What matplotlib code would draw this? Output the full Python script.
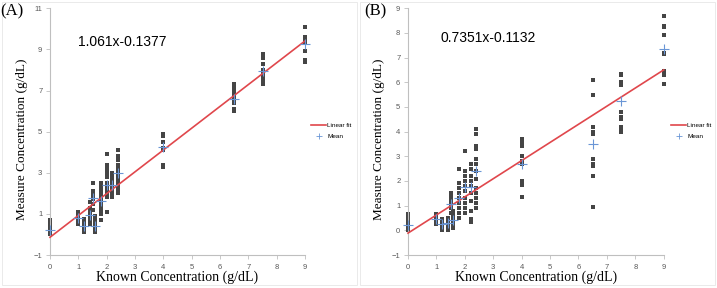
import matplotlib
matplotlib.use("Agg")
import matplotlib.pyplot as plt
from matplotlib.patches import Rectangle
from matplotlib.lines import Line2D
import numpy as np

# ---------------- data ----------------
known_levels = [0, 1.0, 1.2, 1.4, 1.5, 1.6, 1.8, 2.0, 2.2, 2.4, 4.0, 6.5, 7.5, 9.0]

meas_a = [
    [0.0, 0.05, 0.1, 0.15, 0.3, 0.4, 0.5, 0.6, 0.7],
    [0.5, 0.6, 0.7, 0.8, 0.9, 1.0, 1.1],
    [0.1, 0.2, 0.3, 0.4, 0.5, 0.6, 0.75],
    [0.5, 0.6, 0.8, 0.9, 1.0, 1.2, 1.3, 1.6],
    [1.2, 1.5, 1.7, 1.8, 2.0, 2.1, 2.5],
    [0.1, 0.2, 0.3, 0.4, 0.5, 0.7, 0.9],
    [0.7, 1.0, 1.2, 1.4, 1.5, 1.7, 1.9, 2.1, 2.3, 2.5],
    [1.1, 1.8, 2.0, 2.1, 2.3, 2.5, 2.8, 3.0, 3.2, 3.4, 3.9],
    [1.8, 1.9, 2.0, 2.2, 2.4, 2.6, 2.8, 3.0],
    [2.0, 2.2, 2.4, 2.6, 2.8, 3.0, 3.2, 3.4, 3.6, 3.8, 4.1],
    [3.3, 3.4, 4.1, 4.2, 4.5, 4.8, 4.9],
    [6.0, 6.1, 6.4, 6.6, 6.8, 7.0, 7.1, 7.3],
    [7.3, 7.4, 7.6, 7.8, 8.0, 8.3, 8.6, 8.8],
    [8.4, 8.5, 8.9, 9.3, 9.4, 9.5, 9.6, 10.1],
]
mean_a = [0.2, 0.8, 0.4, 0.95, 1.75, 0.4, 1.65, 2.4, 2.4, 3.0, 4.25, 6.6, 7.95, 9.25]
slope_a, icpt_a = 1.061, -0.1377

meas_b = [
    [0.0, 0.05, 0.1, 0.2, 0.3, 0.45, 0.55, 0.65],
    [0.25, 0.35, 0.45, 0.55, 0.65],
    [0.0, 0.1, 0.2, 0.3, 0.45],
    [0.0, 0.1, 0.2, 0.3, 0.4, 0.5],
    [0.7, 0.9, 1.0, 1.1, 1.2, 1.3, 1.4, 1.5],
    [0.1, 0.2, 0.3, 0.4, 0.5, 0.6, 0.7, 0.8],
    [0.5, 0.7, 0.9, 1.1, 1.3, 1.5, 1.7, 1.9, 2.5],
    [0.7, 0.9, 1.1, 1.3, 1.6, 1.8, 2.0, 2.2, 2.4, 3.2],
    [0.35, 0.45, 0.8, 1.2, 1.5, 1.8, 2.0, 2.2, 2.5, 2.7],
    [0.9, 1.1, 1.3, 1.5, 1.7, 2.1, 2.4, 2.7, 2.9, 3.3, 3.4, 3.9, 4.1],
    [1.35, 1.85, 2.0, 2.7, 2.8, 3.0, 3.4, 3.6, 3.7],
    [0.95, 2.2, 2.6, 2.7, 2.9, 3.9, 4.0, 4.2, 5.5, 6.1],
    [4.0, 4.05, 4.2, 4.5, 4.6, 4.8, 5.9, 6.0, 6.3, 6.35],
    [5.95, 6.3, 6.45, 7.15, 7.2, 7.9, 8.25, 8.3, 8.7],
]
mean_b = [0.2, 0.45, 0.25, 0.3, 1.05, 0.4, 1.3, 1.75, 1.75, 2.4, 2.7, 3.5, 5.25, 7.35]
slope_b, icpt_b = 0.7351, -0.1132

xticks = list(range(0, 10))
yticks_a = [-1, 1, 3, 5, 7, 9, 11]
yticks_b = list(range(-1, 10))

# ---------------- style ----------------
W, H = 717, 288
fig = plt.figure(figsize=(W / 100, H / 100), dpi=100)
fig.patch.set_facecolor("white")

serif = ["Liberation Serif", "DejaVu Serif"]
sans = ["Liberation Sans", "DejaVu Sans"]
SPINE = "#bfbfbf"
TICKC = "#595959"
RED = "#e0474c"
BLUE = "#6a96d6"
DOT = "#454545"

# faint panel borders
for x0, x1 in [(2, 357), (360, 715)]:
    fig.patches.append(Rectangle((x0 / W, 1 - 285 / H), (x1 - x0) / W, 283 / H,
                                 transform=fig.transFigure, fill=False,
                                 edgecolor="#e6e6e6", lw=0.6))


def panel(left_px, right_px, meas, means, slope, icpt, yticks, ylim, eq, eqx, eqy, tag, tagx, legx):
    ax = fig.add_axes([left_px / W, 1 - 255 / H, (right_px - left_px) / W, (255 - 8.3) / H])
    ax.set_xlim(0, 9)
    ax.set_ylim(*ylim)
    for s in ["top", "right"]:
        ax.spines[s].set_visible(False)
    for s in ["left", "bottom"]:
        ax.spines[s].set_color(SPINE)
        ax.spines[s].set_linewidth(0.8)
    ax.set_xticks(xticks)
    ax.set_yticks(yticks)
    ax.tick_params(axis="both", colors=SPINE, length=3, width=0.6, labelsize=5.5,
                   labelcolor=TICKC, pad=2.5)
    ax.tick_params(axis="x", pad=3.5)
    for lab in ax.get_xticklabels() + ax.get_yticklabels():
        lab.set_family(sans)

    # scatter points
    for xv, ys in zip(known_levels, meas):
        ax.plot([xv] * len(ys), ys, ls="none", marker="s", ms=2.2, color=DOT,
                mec=DOT, mew=0, clip_on=False, zorder=2)
    # fit line
    xx = np.array([0, 9])
    ax.plot(xx, slope * xx + icpt, color=RED, lw=1.2, zorder=3, clip_on=False)
    # means
    ax.plot(known_levels, means, ls="none", marker="+", ms=7, mew=0.8, color=BLUE,
            zorder=4, clip_on=False)

    ax.set_xlabel("Known Concentration (g/dL)", family=serif, fontsize=10)
    ax.xaxis.set_label_coords(0.5, -0.062)
    ax.set_ylabel("Measure Concentration (g/dL)", family=serif, fontsize=9.5)
    ax.yaxis.set_label_coords(-0.088, 0.47)
    ax.text(eqx, eqy, eq, transform=ax.transAxes, family=sans, fontsize=10,
            ha="left", va="center", color="black")
    fig.text(tagx / W, 1 - 11 / H, tag, family=serif, fontsize=12, ha="left", va="center")

    handles = [Line2D([], [], color=RED, lw=1.2),
               Line2D([], [], ls="none", marker="+", ms=4, mew=0.6, color=BLUE)]
    fig.legend(handles, ["Linear fit", "Mean"], loc="center left",
               bbox_to_anchor=(legx / W, 1 - 131 / H), frameon=False,
               prop={"family": sans, "size": 4.6}, handlelength=2.4, handletextpad=0.15,
               labelspacing=0.9, borderpad=0, borderaxespad=0)
    return ax


panel(50, 305, meas_a, mean_a, slope_a, icpt_a, yticks_a, (-1, 11),
      "1.061x-0.1377", 0.11, 0.862, "(A)", 0, 311)
panel(408, 663.7, meas_b, mean_b, slope_b, icpt_b, yticks_b, (-1, 9),
      "0.7351x-0.1132", 0.129, 0.878, "(B)", 364, 671)

fig.savefig("out.png", dpi=100, facecolor="white")
